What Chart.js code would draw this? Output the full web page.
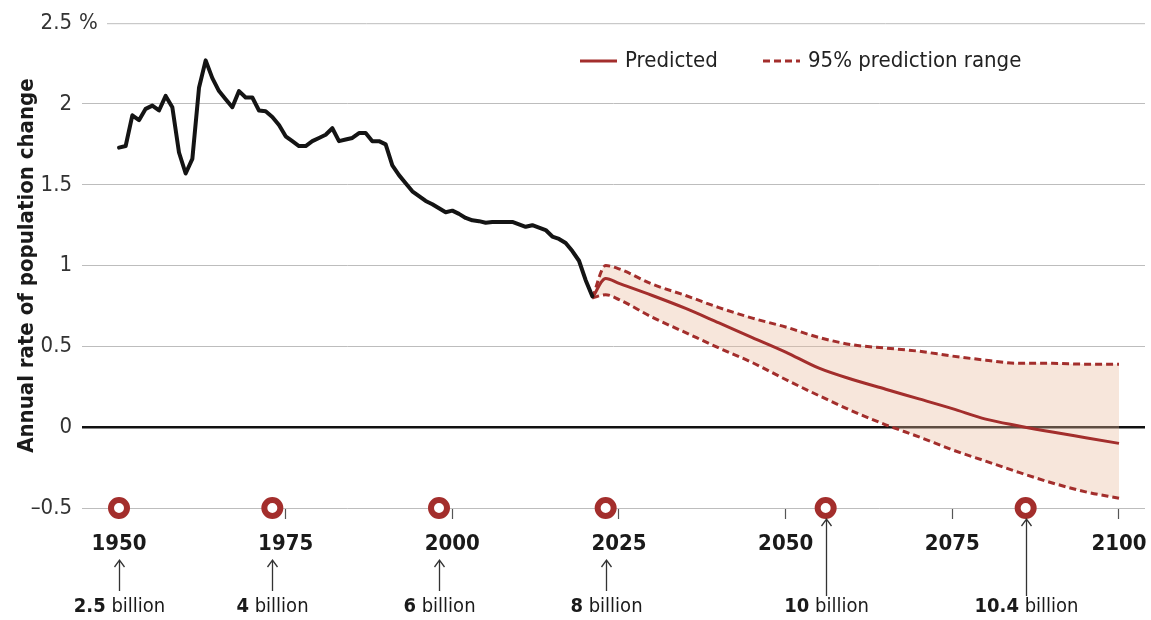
<!DOCTYPE html>
<html>
<head>
<meta charset="utf-8">
<script src="https://cdn.jsdelivr.net/npm/chart.js@4.4.1/dist/chart.umd.min.js"></script>
<style>
  html, body { margin: 0; padding: 0; background: #fff; }
</style>
</head>
<body>
<canvas id="popChart" width="1151" height="620"></canvas>
<script>
// observed annual rate of population change, %
const histYears = [1950, 1951, 1952, 1953, 1954, 1955, 1956, 1957, 1958, 1959,
  1960, 1961, 1962, 1963, 1964, 1965, 1966, 1967, 1968, 1969,
  1970, 1971, 1972, 1973, 1974, 1975, 1976, 1977, 1978, 1979,
  1980, 1981, 1982, 1983, 1984, 1985, 1986, 1987, 1988, 1989,
  1990, 1991, 1992, 1993, 1994, 1995, 1996, 1997, 1998, 1999,
  2000, 2001, 2002, 2003, 2004, 2005, 2006, 2007, 2008, 2009,
  2010, 2011, 2012, 2013, 2014, 2015, 2016, 2017, 2018, 2019,
  2020, 2021];
const histRate = [1.73, 1.74, 1.93, 1.90, 1.97, 1.99, 1.96, 2.05, 1.98, 1.70,
  1.57, 1.66, 2.10, 2.27, 2.16, 2.08, 2.03, 1.98, 2.08, 2.04,
  2.04, 1.96, 1.955, 1.92, 1.87, 1.80, 1.77, 1.74, 1.74, 1.77,
  1.79, 1.81, 1.85, 1.77, 1.78, 1.79, 1.82, 1.82, 1.77, 1.77,
  1.75, 1.62, 1.56, 1.51, 1.46, 1.43, 1.40, 1.38, 1.355, 1.33,
  1.34, 1.32, 1.295, 1.28, 1.275, 1.265, 1.27, 1.27, 1.27, 1.27,
  1.255, 1.24, 1.25, 1.235, 1.22, 1.18, 1.165, 1.14, 1.09, 1.03,
  0.91, 0.81];

// projection
const predYears = [2021, 2023, 2025, 2030, 2035, 2040, 2045, 2050, 2055, 2060,
  2065, 2070, 2075, 2080, 2085, 2090, 2095, 2100];
const predRate = [0.80, 0.92, 0.89, 0.815, 0.735, 0.645, 0.555, 0.465, 0.365, 0.295,
  0.235, 0.175, 0.115, 0.05, 0.008, -0.03, -0.065, -0.10];
const upperRate = [0.80, 1.00, 0.98, 0.885, 0.815, 0.74, 0.675, 0.62, 0.555, 0.51,
  0.49, 0.47, 0.44, 0.415, 0.395, 0.395, 0.39, 0.39];
const lowerRate = [0.80, 0.82, 0.79, 0.68, 0.585, 0.49, 0.40, 0.295, 0.195, 0.10,
  0.015, -0.06, -0.14, -0.21, -0.28, -0.345, -0.40, -0.44];

// world population milestones
const milestoneYears = [1950, 1973, 1998, 2023, 2056, 2086];
const milestoneNums = ['2.5', '4', '6', '8', '10', '10.4'];
const milestoneY = -0.5;

const xTicks = [1950, 1975, 2000, 2025, 2050, 2075, 2100];
const yTicks = [-0.5, 0, 0.5, 1, 1.5, 2, 2.5];
const yTickLabels = ['\u20130.5', '0', '0.5', '1', '1.5', '2', '2.5'];

const FONT = "'Liberation Sans Narrow', 'DejaVu Sans Condensed', 'Arial Narrow', sans-serif";
const RED = '#a32e2c';
const GRID = '#bdbdbd';

const pts = (xs, ys) => xs.map((v, i) => ({ x: v, y: ys[i] }));

// legend, "%" sign, arrows and population labels
const extras = {
  id: 'extras',
  afterDraw(chart) {
    const { ctx, chartArea, scales: { x, y } } = chart;
    ctx.save();

    // top gridline starts after the "%" sign
    const yTop = y.getPixelForValue(2.5);
    ctx.font = '22px ' + FONT;
    ctx.fillStyle = '#333';
    ctx.textAlign = 'left';
    ctx.textBaseline = 'middle';
    ctx.fillText('%', 79, yTop);
    ctx.strokeStyle = GRID;
    ctx.lineWidth = 1;
    ctx.beginPath();
    ctx.moveTo(107, yTop + 0.5);
    ctx.lineTo(chartArea.right, yTop + 0.5);
    ctx.stroke();

    // legend
    const ds = chart.data.datasets;
    const legY = 61;
    ctx.font = '22px ' + FONT;
    ctx.fillStyle = '#222';
    ctx.strokeStyle = ds[2].borderColor;
    ctx.lineWidth = ds[2].borderWidth;
    ctx.beginPath(); ctx.moveTo(580, legY); ctx.lineTo(617, legY); ctx.stroke();
    ctx.fillText(ds[2].label, 625, legY);
    ctx.setLineDash(ds[3].borderDash);
    ctx.strokeStyle = ds[3].borderColor;
    ctx.lineWidth = ds[3].borderWidth;
    ctx.beginPath(); ctx.moveTo(763, legY); ctx.lineTo(800, legY); ctx.stroke();
    ctx.setLineDash([]);
    ctx.fillText(ds[3].label, 808, legY);

    // arrows + "N billion"
    milestoneYears.forEach((yr, i) => {
      const px = Math.round(x.getPixelForValue(yr)) + 0.5;
      const nearTick = xTicks.some(t => Math.abs(t - yr) < 5);
      const top = nearTick ? 560 : 519;
      const bottom = nearTick ? 591 : 596;
      ctx.strokeStyle = '#333';
      ctx.lineWidth = 1.3;
      ctx.beginPath();
      ctx.moveTo(px, bottom); ctx.lineTo(px, top);
      ctx.moveTo(px - 5, top + 7); ctx.lineTo(px, top); ctx.lineTo(px + 5, top + 7);
      ctx.stroke();

      const boldFont = 'bold 20px ' + FONT;
      const regFont = '20px ' + FONT;
      ctx.font = boldFont;
      const w1 = ctx.measureText(milestoneNums[i]).width;
      ctx.font = regFont;
      const w2 = ctx.measureText(' billion').width;
      const left = px - (w1 + w2) / 2;
      ctx.textAlign = 'left';
      ctx.fillStyle = '#1a1a1a';
      ctx.font = boldFont;
      ctx.fillText(milestoneNums[i], left, 607);
      ctx.font = regFont;
      ctx.fillText(' billion', left + w1, 607);
    });
    ctx.restore();
  }
};

new Chart(document.getElementById('popChart'), {
  type: 'line',
  data: {
    datasets: [
      {
        label: 'Milestones',
        data: milestoneYears.map(v => ({ x: v, y: milestoneY })),
        showLine: false,
        pointStyle: 'circle',
        pointRadius: 8,
        pointBorderWidth: 6,
        pointBorderColor: RED,
        pointBackgroundColor: '#fff',
        clip: false
      },
      {
        label: 'Observed',
        data: pts(histYears, histRate),
        borderColor: '#141414',
        borderWidth: 4,
        borderJoinStyle: 'round',
        borderCapStyle: 'round',
        pointRadius: 0,
        tension: 0,
        fill: false
      },
      {
        label: 'Predicted',
        data: pts(predYears, predRate),
        borderColor: RED,
        borderWidth: 3,
        pointRadius: 0,
        cubicInterpolationMode: 'monotone',
        fill: false
      },
      {
        label: '95% prediction range',
        data: pts(predYears, upperRate),
        borderColor: RED,
        borderWidth: 3,
        borderDash: [7, 4],
        pointRadius: 0,
        cubicInterpolationMode: 'monotone',
        fill: false
      },
      {
        label: '95% lower',
        data: pts(predYears, lowerRate),
        borderColor: RED,
        borderWidth: 3,
        borderDash: [7, 4],
        pointRadius: 0,
        cubicInterpolationMode: 'monotone',
        fill: { target: '-1' },
        backgroundColor: 'rgba(232, 186, 156, 0.36)'
      }
    ]
  },
  options: {
    responsive: false,
    animation: false,
    devicePixelRatio: 1,
    layout: { autoPadding: false, padding: { top: 21, right: 6, left: 0, bottom: 0 } },
    plugins: {
      legend: { display: false },
      tooltip: { enabled: false }
    },
    scales: {
      x: {
        type: 'linear',
        min: 1944.45,
        max: 2103.9,
        afterBuildTicks: s => { s.ticks = xTicks.map(v => ({ value: v })); },
        afterFit: s => { s.height = 112; s.paddingLeft = 0; s.paddingRight = 0; },
        border: { display: false },
        grid: {
          drawOnChartArea: false,
          drawTicks: true,
          tickLength: 11,
          tickColor: '#555',
          tickWidth: 1.2
        },
        ticks: {
          padding: 0,
          color: '#1a1a1a',
          font: { family: FONT, size: 22, weight: 'bold', lineHeight: 2.3 },
          maxRotation: 0,
          callback: v => String(v)
        }
      },
      y: {
        min: -0.5,
        max: 2.5,
        afterBuildTicks: s => { s.ticks = yTicks.map(v => ({ value: v })); },
        afterFit: s => { s.width = 82; },
        border: { display: false },
        grid: {
          drawTicks: false,
          color: c => c.tick.value === 0 ? '#111' : (c.tick.value === 2.5 ? 'rgba(0,0,0,0)' : GRID),
          lineWidth: c => c.tick.value === 0 ? 2.5 : 1
        },
        ticks: {
          padding: 10,
          color: '#333',
          font: { family: FONT, size: 22 },
          callback: v => yTickLabels[yTicks.indexOf(v)]
        },
        title: {
          display: true,
          text: 'Annual rate of population change',
          color: '#1a1a1a',
          font: { family: FONT, size: 22, weight: 'bold' },
          padding: { top: 14, bottom: 0 }
        }
      }
    }
  },
  plugins: [extras]
});
</script>
</body>
</html>
